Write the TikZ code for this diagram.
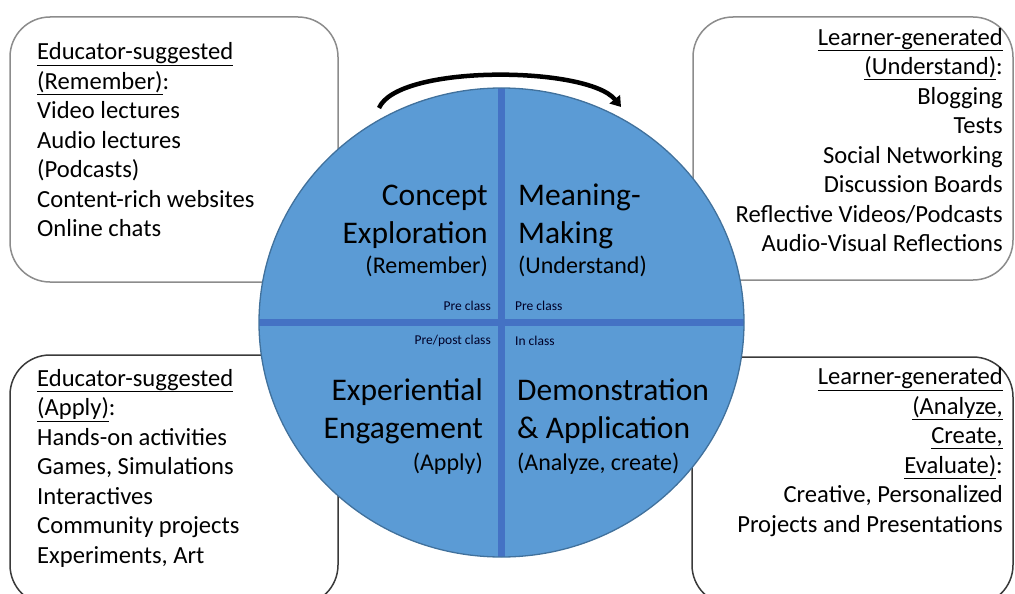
\documentclass[tikz,border=0pt]{standalone}
\usepackage{fontspec}
\setmainfont{Carlito}
\usetikzlibrary{arrows.meta,shapes.geometric}
\definecolor{circfill}{HTML}{5B9BD5}
\definecolor{circedge}{HTML}{41719C}
\definecolor{crossc}{HTML}{4472C4}
\definecolor{boxgray}{HTML}{8C8C8C}
\definecolor{boxdark}{HTML}{3A3A3A}
\tikzset{
  roundbox/.style={draw, line width=1.5pt, rounded corners=40pt, fill=white, inner sep=0pt},
  boxtext/.style={inner sep=0pt, font=\fontsize{24.6}{29.5}\selectfont},
  bigtext/.style={inner sep=0pt, font=\fontsize{31.5}{38}\selectfont},
  subtext/.style={inner sep=0pt, font=\fontsize{24}{29}\selectfont},
  smalltext/.style={inner sep=0pt, font=\fontsize{13.5}{16}\selectfont, text=black!85!blue},
  crossline/.style={draw=crossc, line width=7.5pt},
  cycarrow/.style={draw=black, line width=4.5pt, -{Triangle[length=10pt,width=13pt]}}
}
\begin{document}
\begin{tikzpicture}[x=1pt,y=-1pt]
\useasboundingbox (0,0) rectangle (1015,594);
% boxes
\node[roundbox, draw=boxgray, minimum width=328pt, minimum height=265pt] (boxTL) at (174,149.5) {};
\node[roundbox, draw=boxgray, minimum width=320pt, minimum height=263pt] (boxTR) at (853,148.5) {};
\node[roundbox, draw=boxdark, minimum width=328pt, minimum height=250pt] (boxBL) at (174,480) {};
\node[roundbox, draw=boxdark, minimum width=321pt, minimum height=248pt] (boxBR) at (852.5,481) {};
% box texts (base anchor = baseline of the last line)
\node[boxtext, anchor=base west, align=left] (txtTL) at (37,236.5)
  {\underline{Educator-suggested}\\ \underline{(Remember)}:\\ Video lectures\\ Audio lectures\\ (Podcasts)\\ Content-rich websites\\ Online chats};
\node[boxtext, anchor=base east, align=right] (txtTR) at (1003,251.5)
  {\underline{Learner-generated}\\ \underline{(Understand)}:\\ Blogging\\ Tests\\ Social Networking\\ Discussion Boards\\ Reflective Videos/Podcasts\\ Audio-Visual Reflections};
\node[boxtext, anchor=base west, align=left] (txtBL) at (37,563)
  {\underline{Educator-suggested}\\ \underline{(Apply)}:\\ Hands-on activities\\ Games, Simulations\\ Interactives\\ Community projects\\ Experiments, Art};
\node[boxtext, anchor=base east, align=right] (txtBR) at (1003,532)
  {\underline{Learner-generated}\\ \underline{(Analyze,}\\ \underline{Create,}\\ \underline{Evaluate)}:\\ Creative, Personalized\\ Projects and Presentations};
% circle
\node[ellipse, fill=circfill, minimum width=485pt, minimum height=469pt, inner sep=0pt] (circ) at (501.5,322.5) {};
\begin{scope}
  \clip (501.5,322.5) ellipse [x radius=242.5pt, y radius=234.5pt];
  \draw[crossline] (circ.west) -- (circ.east);
  \draw[crossline] (circ.north) -- (circ.south);
\end{scope}
\draw[circedge, line width=1.3pt] (501.5,322.5) ellipse [x radius=242.5pt, y radius=234.5pt];
% quadrant labels
\node[bigtext, anchor=base east, align=right] (qTL) at (488,243) {Concept\\Exploration};
\node[subtext, anchor=base east] (qTLs) at (488,273) {(Remember)};
\node[bigtext, anchor=base west, align=left] (qTR) at (518,243) {Meaning-\\Making};
\node[subtext, anchor=base west] (qTRs) at (518,273) {(Understand)};
\node[bigtext, anchor=base east, align=right] (qBL) at (483,438) {Experiential\\Engagement};
\node[subtext, anchor=base east] (qBLs) at (483,470) {(Apply)};
\node[bigtext, anchor=base west, align=left] (qBR) at (517,438) {Demonstration\\\& Application};
\node[subtext, anchor=base west] (qBRs) at (517,470) {(Analyze, create)};
% small labels
\node[smalltext, anchor=base east] (sTL) at (491,310) {Pre class};
\node[smalltext, anchor=base west] (sTR) at (515,310) {Pre class};
\node[smalltext, anchor=base east] (sBL) at (491,344) {Pre/post class};
\node[smalltext, anchor=base west] (sBR) at (515,345) {In class};
% cycle arrow
\coordinate (aL) at (379,108);
\coordinate (aR) at (621,107);
\draw[cycarrow] (aL) .. controls (398,64) and (588,66) .. (aR);
\end{tikzpicture}
\end{document}
